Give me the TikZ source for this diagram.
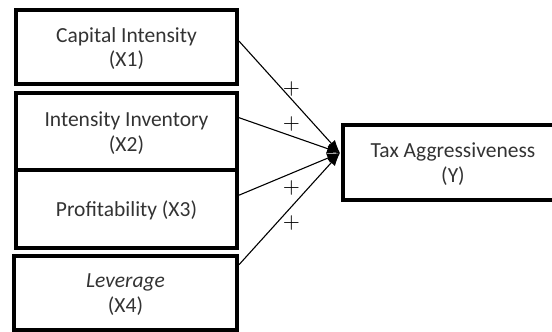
\documentclass[tikz,border=0pt]{standalone}
\usepackage{fontspec}
\setmainfont{Carlito}
\usetikzlibrary{arrows.meta}

\begin{document}
\begin{tikzpicture}[x=1pt,y=-1pt,
	box/.style={draw,line width=4pt,align=center,inner sep=0pt,text depth=0pt,text=black!80,font=\fontsize{21.5}{24.5}\selectfont},
	link/.style={line width=1.1pt,-{Latex[length=13pt,width=10pt]}},
	sign/.style={inner sep=1pt}]
	\useasboundingbox (0,0) rectangle (552,332);
	% independent variables
	\node[box,minimum width=221pt,minimum height=74pt] (x1) at (126.5,47) {Capital Intensity\\(X1)};
	\node[box,minimum width=221pt,minimum height=77pt] (x2) at (126.5,131.5) {Intensity Inventory\\(X2)};
	\node[box,minimum width=221pt,minimum height=78pt] (x3) at (126.5,209) {Profitability (X3)};
	\node[box,minimum width=223pt,minimum height=74pt] (x4) at (125.5,293) {\textit{Leverage}\\(X4)};
	% dependent variable
	\node[box,minimum width=220pt,minimum height=75pt] (y) at (453,162.5) {Tax Aggressiveness\\(Y)};
	\coordinate (hub) at (340,153);
	\foreach \n/\a/\s/\d in {x1/3/above/1pt,x2/7/above/3pt,x3/7/below/6pt,x4/14/below/7pt}{
		\draw[link] (\n.\a) -- node[sign,pos=.52,\s=\d] {\scalebox{2.2}{$+$}} (hub);
	}
\end{tikzpicture}
\end{document}
